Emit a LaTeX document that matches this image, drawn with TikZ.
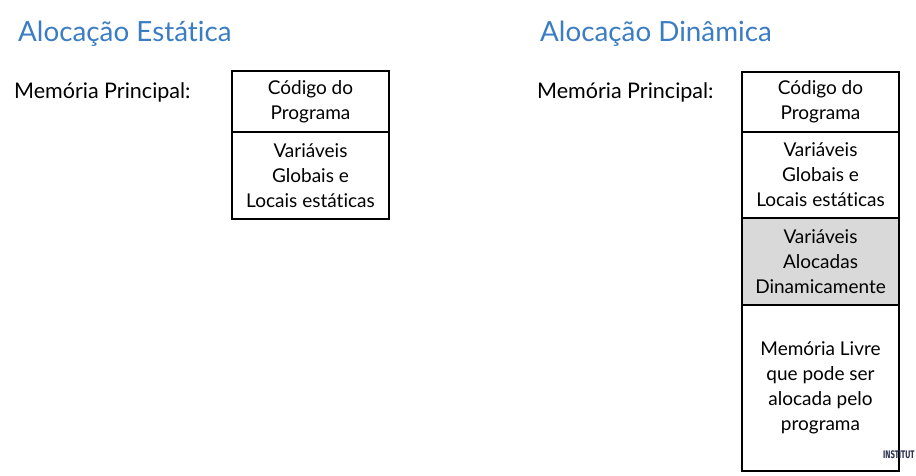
\documentclass[tikz,border=0pt]{standalone}
\usepackage{fontspec}
\setmainfont{Lato}[Ligatures=NoCommon]
\newfontfamily\instfont[FakeStretch=0.7]{Fira Sans}
\definecolor{titleblue}{HTML}{3B7DC4}
\definecolor{cellgray}{HTML}{D9D9D9}
\definecolor{instnavy}{HTML}{2A2F4F}
\begin{document}
\begin{tikzpicture}[x=1pt,y=-1pt,
  title/.style={anchor=base west,inner sep=0pt,text=titleblue,font=\fontsize{27.8}{32}\selectfont},
  label/.style={anchor=base west,inner sep=0pt,font=\fontsize{21.5}{26}\selectfont},
  cell/.style={draw=black,line width=1.2pt,minimum width=157pt,inner sep=0pt,align=center,
    font=\fontsize{19}{25}\selectfont},
]
\useasboundingbox (0,0) rectangle (916,476);
\fill[white] (0,0) rectangle (916,476);
% titles
\node[title] (t1) at (18,42) {Alocação Estática};
\node[title] (t2) at (540,42) {Alocação Dinâmica};
% labels
\node[label] (m1) at (14,99) {Memória Principal:};
\node[label] (m2) at (537,99) {Memória Principal:};
% left column
\node[cell,minimum height=61pt] (l1) at (310.5,101.5) {Código do\\Programa};
\node[cell,minimum height=87pt] (l2) at (310.5,175.5) {Variáveis\\Globais e\\Locais estáticas};
% right column
\node[cell,minimum height=60pt] (r1) at (820.5,102) {Código do\\Programa};
\node[cell,minimum height=86pt] (r2) at (820.5,175) {Variáveis\\Globais e\\Locais estáticas};
\node[cell,minimum height=87pt,fill=cellgray] (r3) at (820.5,261.5) {Variáveis\\Alocadas\\Dinamicamente};
\node[cell,minimum height=166pt] (r4) at (820.5,388) {Memória Livre\\que pode ser\\alocada pelo\\programa};
% footer mark
\node[anchor=base west,inner sep=0pt,text=instnavy,font=\instfont\bfseries\fontsize{11}{11}\selectfont] (inst) at (883,458) {INSTITUT};
\end{tikzpicture}
\end{document}
